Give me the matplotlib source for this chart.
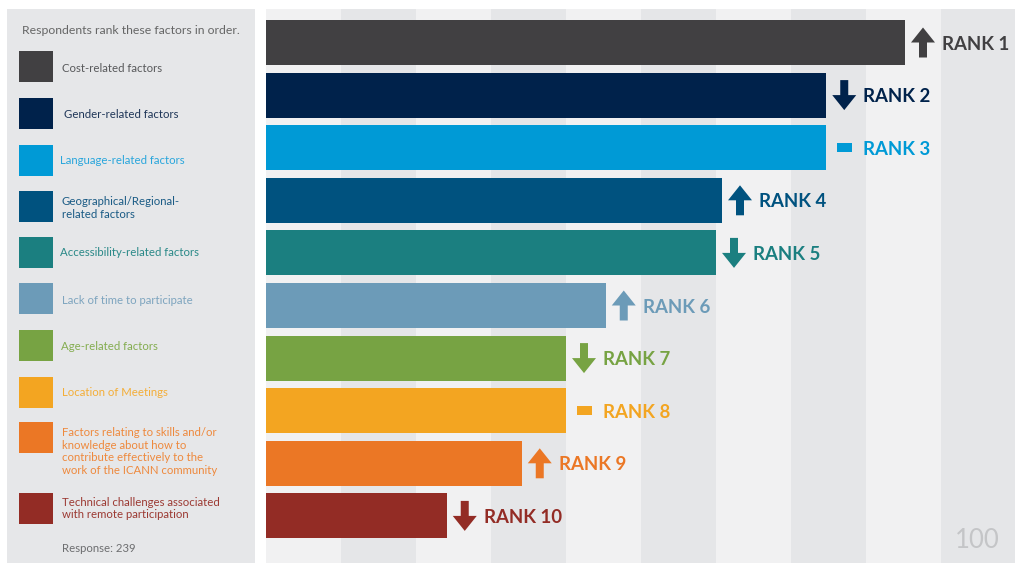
import matplotlib
matplotlib.use("Agg")
import matplotlib.pyplot as plt
from matplotlib.patches import Polygon, Rectangle
from matplotlib.transforms import ScaledTranslation

# ---------------- data ----------------
factors = [
    "Cost-related factors",
    "Gender-related factors",
    "Language-related factors",
    "Geographical/Regional-\nrelated factors",
    "Accessibility-related factors",
    "Lack of time to participate",
    "Age-related factors",
    "Location of Meetings",
    "Factors relating to skills and/or\nknowledge about how to\ncontribute effectively to the\nwork of the ICANN community",
    "Technical challenges associated\nwith remote participation",
]
scores = [85.2, 74.7, 74.7, 60.8, 60.0, 45.3, 40.0, 40.0, 34.1, 24.1]
ranks = [1, 2, 3, 4, 5, 6, 7, 8, 9, 10]
trend = ["up", "down", "same", "up", "down", "up", "down", "same", "up", "down"]
colors = ["#414042", "#00224b", "#009ad6", "#00527f", "#1b7f80",
          "#6c9bb8", "#77a343", "#f3a521", "#eb7725", "#932c25"]
text_colors = ["#58595b", "#1f3658", "#29a6dc", "#1a5b85", "#2a8988",
               "#7ea5bf", "#84ad50", "#f4ae38", "#ee893d", "#9c3a33"]
legend_title = "Respondents rank these factors in order."
response_note = "Response: 239"
axis_max_label = "100"

W, H = 1015, 565
fig = plt.figure(figsize=(W / 100, H / 100), dpi=100)
fig.patch.set_facecolor("white")

# ---------------- left legend panel ----------------
lx0, lx1, ly0, ly1 = 7, 255, 9, 563
lax = fig.add_axes([lx0 / W, 1 - ly1 / H, (lx1 - lx0) / W, (ly1 - ly0) / H])
lax.set_xlim(lx0, lx1)
lax.set_ylim(ly1, ly0)
lax.set_facecolor("#e6e7e9")
for s in lax.spines.values():
    s.set_visible(False)
lax.set_xticks([])
lax.set_yticks([])

FONT = "Lato"
lax.text(22, 30, legend_title, fontsize=8.8, color="#666666", va="center",
         ha="left", family=FONT)

sq_tops = [51, 98, 145, 191, 237, 283, 330, 377, 422, 493]
txt_y = [68, 115, 161, 208, 253, 300, 346, 392, 451.5, 508.5]
txt_x = [62, 64, 60, 62, 60, 62, 61, 62, 62, 62]
for i, lab in enumerate(factors):
    lax.add_patch(Rectangle((19, sq_tops[i]), 34, 31, facecolor=colors[i],
                            edgecolor="none"))
    lax.text(txt_x[i], txt_y[i], lab, fontsize=8.2, color=text_colors[i],
             va="center", ha="left", family=FONT, linespacing=1.2)
lax.text(62, 549, response_note, fontsize=8.2, color="#6d6e70", va="center",
         ha="left", family=FONT)

# ---------------- right bar panel ----------------
rx0, rx1, ry0, ry1 = 266, 1016, 9, 563
ax = fig.add_axes([rx0 / W, 1 - ry1 / H, (rx1 - rx0) / W, (ry1 - ry0) / H])
ax.set_xlim(0, 100)
spacing = 52.6
ax.set_ylim((ry1 - 42.5) / spacing, -(42.5 - ry0) / spacing)
for s in ax.spines.values():
    s.set_visible(False)
ax.set_xticks([])
ax.set_yticks([])
ax.set_facecolor("#f1f1f2")
for k in range(10):
    if k % 2 == 1:
        ax.axvspan(k * 10, (k + 1) * 10, color="#e5e6e8", lw=0, zorder=0)

ypos = list(range(len(scores)))
ax.barh(ypos, scores, height=0.855, color=colors, zorder=2)

px = 0.01  # inches per pixel at 100 dpi
up = [(-4, -15), (4, -15), (4, 0), (12, 0), (0, 15), (-12, 0), (-4, 0)]
down = [(x, -y) for x, y in up]
dash = [(-7.5, -4.5), (7.5, -4.5), (7.5, 4.5), (-7.5, 4.5)]
shapes = {"up": up, "down": down, "same": dash}

for i, (v, r, t) in enumerate(zip(scores, ranks, trend)):
    trans = fig.dpi_scale_trans + ScaledTranslation(v, i, ax.transData)
    verts = [((x + 18) * px, y * px) for x, y in shapes[t]]
    ax.add_patch(Polygon(verts, closed=True, facecolor=colors[i],
                         edgecolor="none", transform=trans, zorder=3,
                         clip_on=False))
    ax.text(37 * px, -7 * px, f"RANK {r}", transform=trans, fontsize=13.4,
            fontweight="bold", color=colors[i], va="baseline", ha="left",
            family=FONT, zorder=3)

ax.text(0.9785, 0.018, axis_max_label, transform=ax.transAxes, fontsize=18.5,
        color="#c4c5c7", ha="right", va="bottom", family=FONT)

fig.savefig("out.png", dpi=100, facecolor="white")
